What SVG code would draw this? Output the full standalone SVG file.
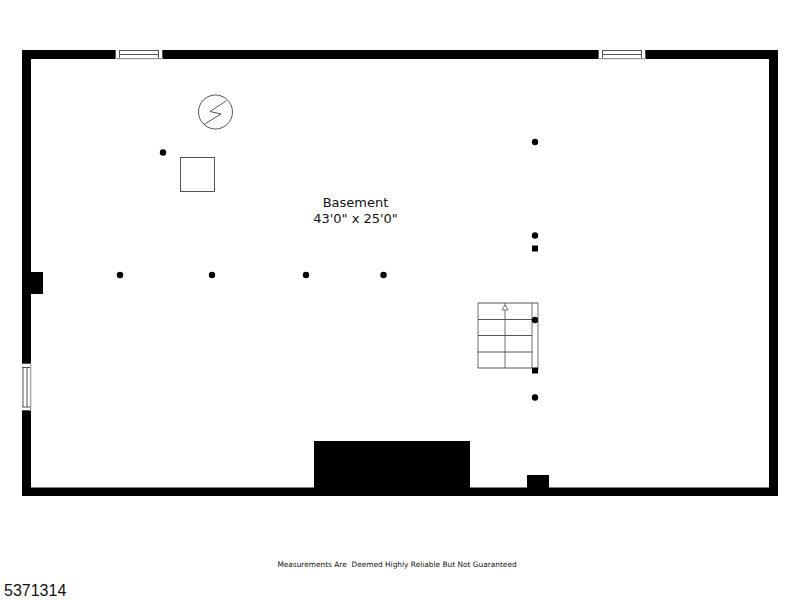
<svg xmlns="http://www.w3.org/2000/svg" width="800" height="600" viewBox="0 0 800 600">
<style>
.wall{fill:#000}
.thin{fill:none;stroke:#555;stroke-width:1}
.stair{fill:none;stroke:#444;stroke-width:.9}
.stairl{fill:none;stroke:#999;stroke-width:1.4}
text{font-family:"DejaVu Sans",Verdana,sans-serif;fill:#111}
</style>
<rect width="800" height="600" fill="#fff"/>
<g id="walls">
<path class="wall" fill-rule="evenodd" d="M22 50H778V496H22ZM31 59V487.500H314V441H470V487.500H527V475H549V487.500H769V59Z"/>
<rect class="wall" x="31" y="272" width="12" height="22"/>
</g>
<g id="window-top-left">
<rect x="115" y="50" width="48" height="9" fill="#fff"/>
<path class="thin" d="M115.500 50V59M119.500 50V59M158.500 50V59M162.500 50V59M119 50.500H159M119 54.500H159"/>
<path d="M115 58.700H163" fill="none" stroke="#999" stroke-width="1.200"/>
</g>
<g id="window-top-right">
<rect x="598" y="50" width="48" height="9" fill="#fff"/>
<path class="thin" d="M598.500 50V59M602.500 50V59M641.500 50V59M645.500 50V59M602 50.500H642M602 54.500H642"/>
<path d="M598 58.700H646" fill="none" stroke="#999" stroke-width="1.200"/>
</g>
<g id="window-left">
<rect x="22" y="363" width="9" height="48" fill="#fff"/>
<path class="thin" d="M22 363.500H31M22 367.500H31M22 407H31M22 410.500H31M23 367.500V407M27 367.500V407"/>
<path d="M30.700 363V411" fill="none" stroke="#999" stroke-width="1.200"/>
</g>
<g id="panel">
<circle cx="215.500" cy="112" r="17" class="thin"/>
<path class="thin" d="M204 124.500L221 114L210 111.500L226 101"/>
</g>
<g id="square"><rect x="180.500" y="157.500" width="34" height="34" class="thin"/></g>
<g id="label">
<text x="355.500" y="207" font-size="13" text-anchor="middle">Basement</text>
<text x="355.500" y="223" font-size="13" text-anchor="middle">43'0" x 25'0"</text>
</g>
<g id="stairs">
<path class="stairl" d="M478 303V368M505 303V368M532 303V368M538 303V370"/>
<path class="stair" d="M478 303H538M478 319.500H532M478 335.500H532M478 352H532M478 368H532"/>
<path d="M502 310L505 305L508 310Z" fill="#fff" stroke="#666" stroke-width=".9"/>
</g>
<g id="posts">
<circle cx="163" cy="152.500" r="3.200"/>
<circle cx="535" cy="142" r="3.200"/>
<circle cx="535" cy="235.500" r="3.200"/>
<rect x="532" y="245.500" width="6" height="6"/>
<circle cx="120" cy="275" r="3.200"/>
<circle cx="212" cy="275" r="3.200"/>
<circle cx="306" cy="275" r="3.200"/>
<circle cx="383.500" cy="275" r="3.200"/>
<circle cx="535" cy="320" r="3.200"/>
<rect x="532" y="367.500" width="6" height="6"/>
<circle cx="535" cy="397.500" r="3.200"/>
</g>
<text x="397" y="566.500" font-size="7.400" text-anchor="middle" fill="#333" xml:space="preserve">Measurements Are  Deemed Highly Reliable But Not Guaranteed</text>
<text x="4" y="596" style="font-family:'Liberation Sans',Arial,sans-serif" font-size="16">5371314</text>
</svg>
